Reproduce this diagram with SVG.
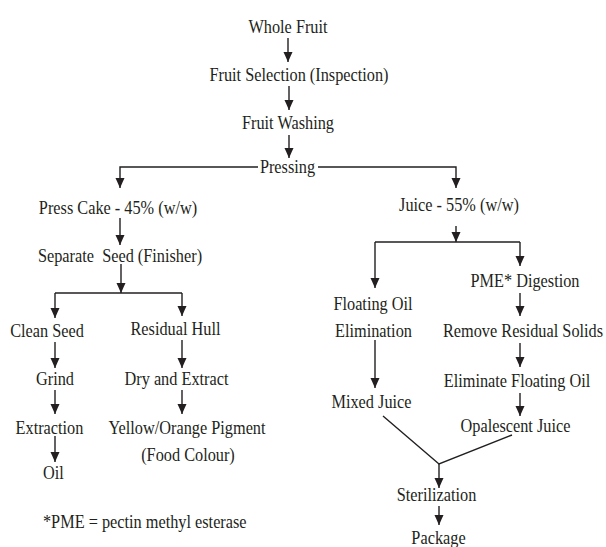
<svg xmlns="http://www.w3.org/2000/svg" width="606" height="547" viewBox="0 0 606 547">
<style>
text{font-family:"Liberation Serif","Times New Roman",serif;font-size:18px;fill:#231f20;text-anchor:middle;white-space:pre}
.c{fill:none;stroke:#231f20;stroke-width:1.4}
</style>
<defs>
<marker id="ah" markerUnits="userSpaceOnUse" markerWidth="10" markerHeight="12" viewBox="0 0 10 12" refX="10" refY="4.5" orient="auto">
<path d="M0,0 L10,4.5 L0,9 Z" fill="#231f20"/>
</marker>
</defs>
<rect width="606" height="547" fill="#fff"/>
<g id="connectors">
<path class="c" d="M288 38V62" marker-end="url(#ah)"/>
<path class="c" d="M289 86V110" marker-end="url(#ah)"/>
<path class="c" d="M289 135V158" marker-end="url(#ah)"/>
<path class="c" d="M258 167H120V188" marker-end="url(#ah)"/>
<path class="c" d="M318 167H456V188" marker-end="url(#ah)"/>
<path class="c" d="M120 218V245" marker-end="url(#ah)"/>
<path class="c" d="M121 264V293" marker-end="url(#ah)"/>
<path class="c" d="M55 293H182"/>
<path class="c" d="M55 293V318" marker-end="url(#ah)"/>
<path class="c" d="M182 293V316" marker-end="url(#ah)"/>
<path class="c" d="M55 342V368" marker-end="url(#ah)"/>
<path class="c" d="M182 340V368" marker-end="url(#ah)"/>
<path class="c" d="M55 390V414" marker-end="url(#ah)"/>
<path class="c" d="M182 390V414" marker-end="url(#ah)"/>
<path class="c" d="M55 436V462" marker-end="url(#ah)"/>
<path class="c" d="M456 226V242" marker-end="url(#ah)"/>
<path class="c" d="M375 242H520"/>
<path class="c" d="M375 242V288" marker-end="url(#ah)"/>
<path class="c" d="M520 242V266" marker-end="url(#ah)"/>
<path class="c" d="M520 293V316" marker-end="url(#ah)"/>
<path class="c" d="M375 340V388" marker-end="url(#ah)"/>
<path class="c" d="M520 343V367" marker-end="url(#ah)"/>
<path class="c" d="M520 393V416" marker-end="url(#ah)"/>
<path class="c" d="M383 416L439 464L512 435"/>
<path class="c" d="M439 464V488" marker-end="url(#ah)"/>
<path class="c" d="M439 506V525" marker-end="url(#ah)"/>
</g>
<g transform="scale(0.905,1)">
<g id="whole-fruit"><text x="318.23" y="33">Whole Fruit</text></g>
<g id="fruit-selection"><text x="330.39" y="81">Fruit Selection (Inspection)</text></g>
<g id="fruit-washing"><text x="318.23" y="129">Fruit Washing</text></g>
<g id="pressing"><text x="317.68" y="173">Pressing</text></g>
<g id="press-cake"><text x="130.39" y="214">Press Cake - 45% (w/w)</text></g>
<g id="juice"><text x="507.18" y="211">Juice - 55% (w/w)</text></g>
<g id="separate-seed"><text x="132.6" y="262">Separate  Seed (Finisher)</text></g>
<g id="clean-seed"><text x="51.93" y="337">Clean Seed</text></g>
<g id="residual-hull"><text x="193.92" y="335">Residual Hull</text></g>
<g id="grind"><text x="60.77" y="385">Grind</text></g>
<g id="dry-extract"><text x="195.03" y="385">Dry and Extract</text></g>
<g id="extraction"><text x="54.7" y="434">Extraction</text></g>
<g id="pigment"><text x="206.63" y="434">Yellow/Orange Pigment</text><text x="207.73" y="461">(Food Colour)</text></g>
<g id="oil"><text x="59.12" y="479">Oil</text></g>
<g id="footnote"><text x="47.51" y="528" style="text-anchor:start">*PME = pectin methyl esterase</text></g>
<g id="pme-digestion"><text x="580.11" y="287">PME* Digestion</text></g>
<g id="floating-oil-elimination"><text x="412.15" y="310">Floating Oil</text><text x="412.71" y="337">Elimination</text></g>
<g id="remove-solids"><text x="577.9" y="337">Remove Residual Solids</text></g>
<g id="mixed-juice"><text x="410.5" y="408">Mixed Juice</text></g>
<g id="eliminate-oil"><text x="571.27" y="387">Eliminate Floating Oil</text></g>
<g id="opalescent-juice"><text x="569.61" y="432">Opalescent Juice</text></g>
<g id="sterilization"><text x="482.32" y="501">Sterilization</text></g>
<g id="package"><text x="484.53" y="544">Package</text></g>
</g>
</svg>
